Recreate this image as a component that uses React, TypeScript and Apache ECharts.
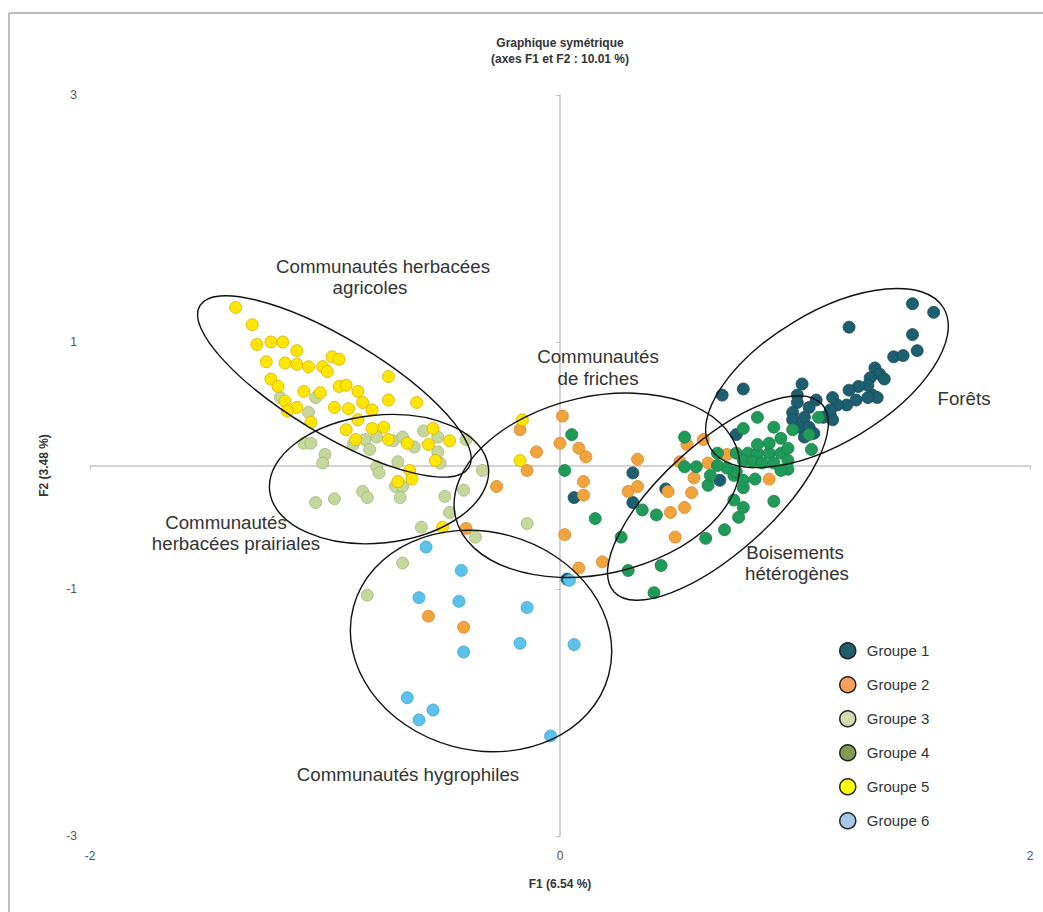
import React, { useEffect, useRef } from "react";
import * as echarts from "echarts";

const groupNames = ["Groupe 1", "Groupe 2", "Groupe 3", "Groupe 4", "Groupe 5", "Groupe 6"];

const group1 = [
  [0.69, 0.57], [0.78, 0.62], [0.31, -0.06], [0.31, -0.3], [0.06, -0.26], [0.45, -0.19], [0.68, -0.12], [0.75, 0.25], [0.03, -0.92],
  [1.5, 1.31], [1.59, 1.24], [1.23, 1.12], [1.5, 1.06], [1.52, 0.93], [1.42, 0.88], [1.46, 0.89], [1.34, 0.79], [1.36, 0.74],
  [1.32, 0.71], [1.38, 0.7], [1.31, 0.65], [1.27, 0.64], [1.23, 0.61], [1.33, 0.57], [1.35, 0.55], [1.31, 0.55], [1.26, 0.53],
  [1.22, 0.49], [1.18, 0.49], [1.16, 0.55], [1.03, 0.66], [1.01, 0.57], [1.01, 0.51], [1.06, 0.47], [1.09, 0.53], [0.99, 0.43],
  [0.99, 0.37], [1.04, 0.39], [1.02, 0.31], [1.06, 0.31], [1.04, 0.23], [1.08, 0.26], [1.15, 0.41], [1.12, 0.39], [1.16, 0.37],
  [1.15, 0.45],
];

const group2 = [
  [-0.56, -1.22], [-0.41, -1.31], [-0.4, -0.51], [0.02, -0.56], [0.08, -0.83], [0.18, -0.78], [-0.27, -0.17], [0.01, 0.4],
  [-0.17, 0.29], [0.0, 0.18], [0.08, 0.14], [0.11, 0.07], [-0.1, 0.11], [-0.14, -0.04], [0.1, -0.13], [0.1, -0.24], [0.33, 0.05],
  [0.29, -0.21], [0.33, -0.17], [0.47, -0.38], [0.53, -0.34], [0.56, -0.22], [0.57, -0.1], [0.49, -0.58], [0.51, 0.03], [0.54, 0.17],
  [0.61, 0.21], [0.63, 0.02], [0.71, 0.09], [0.46, -0.21], [0.89, -0.11],
];

const group3 = [
  [-1.19, 0.55], [-1.04, 0.55], [-1.07, 0.43], [-1.09, 0.18], [-1.06, 0.18], [-1.0, 0.09], [-1.01, 0.02], [-0.88, 0.17],
  [-0.83, 0.21], [-0.81, 0.13], [-0.78, 0.23], [-0.71, 0.2], [-0.67, 0.23], [-0.62, 0.15], [-0.58, 0.28], [-0.52, 0.23],
  [-0.52, 0.11], [-0.51, 0.02], [-0.78, -0.01], [-0.77, -0.06], [-0.69, 0.03], [-0.7, -0.17], [-0.67, -0.17], [-0.68, -0.26],
  [-0.84, -0.21], [-0.82, -0.26], [-1.04, -0.3], [-0.96, -0.27], [-0.4, 0.21], [-0.33, -0.04], [-0.41, -0.2], [-0.49, -0.25],
  [-0.47, -0.38], [-0.59, -0.5], [-0.36, -0.58], [-0.14, -0.47], [-0.67, -0.79], [-0.82, -1.05],
];

const group4 = [
  [0.05, 0.25], [0.02, -0.04], [0.15, -0.43], [0.26, -0.58], [0.29, -0.85], [0.43, -0.81], [0.4, -1.03], [0.35, -0.36],
  [0.41, -0.4], [0.62, -0.59], [0.7, -0.52], [0.76, -0.42], [0.78, -0.34], [0.74, -0.28], [0.91, -0.29], [0.78, -0.18],
  [0.63, -0.16], [0.64, -0.08], [0.74, -0.08], [0.78, -0.12], [0.83, -0.11], [0.53, 0.23], [0.53, -0.01], [0.58, -0.01],
  [0.67, 0.1], [0.75, 0.1], [0.8, 0.1], [0.84, 0.1], [0.89, 0.1], [0.94, 0.1], [0.78, 0.04], [0.82, 0.03], [0.86, 0.02],
  [0.91, 0.02], [0.97, 0.04], [0.97, -0.03], [0.94, -0.04], [0.75, -0.05], [0.71, -0.02], [0.67, 0.0], [0.84, 0.39],
  [0.78, 0.3], [0.91, 0.31], [1.1, 0.39], [0.94, 0.22], [0.89, 0.18], [0.84, 0.17], [0.99, 0.29], [1.06, 0.25], [1.07, 0.13],
  [0.97, 0.14],
];

const group5 = [
  [-1.38, 1.28], [-1.31, 1.14], [-1.29, 0.98], [-1.23, 1.0], [-1.18, 1.0], [-1.12, 0.93], [-1.25, 0.84], [-1.17, 0.83],
  [-1.12, 0.82], [-1.07, 0.8], [-0.97, 0.88], [-0.94, 0.86], [-1.01, 0.8], [-0.99, 0.76], [-0.73, 0.72], [-1.23, 0.7],
  [-1.2, 0.64], [-1.09, 0.6], [-1.02, 0.59], [-0.94, 0.64], [-0.91, 0.65], [-0.86, 0.6], [-0.84, 0.51], [-0.73, 0.53],
  [-0.61, 0.51], [-1.17, 0.52], [-1.12, 0.47], [-1.16, 0.44], [-0.96, 0.47], [-0.9, 0.46], [-0.8, 0.45], [-1.06, 0.35],
  [-0.86, 0.37], [-0.91, 0.29], [-0.8, 0.3], [-0.75, 0.31], [-0.73, 0.21], [-0.87, 0.21], [-0.65, 0.18], [-0.54, 0.3],
  [-0.56, 0.17], [-0.47, 0.2], [-0.53, 0.04], [-0.64, -0.04], [-0.63, -0.11], [-0.69, -0.13], [-0.5, -0.5], [-0.16, 0.37],
  [-0.17, 0.04],
];

const group6 = [
  [-0.57, -0.66], [-0.42, -0.85], [-0.6, -1.07], [-0.43, -1.1], [-0.14, -1.15], [-0.41, -1.51], [-0.17, -1.44], [0.06, -1.45],
  [-0.65, -1.88], [-0.54, -1.98], [-0.6, -2.06], [-0.04, -2.19], [0.04, -0.93],
];

const groupData = [group1, group2, group3, group4, group5, group6];

const pointColors = ["#1d5f6f", "#f3a33b", "#c6d79c", "#1f9a58", "#ffe600", "#5cc2ec"];
const pointBorders = ["#164b58", "#d0892b", "#a3b578", "#177f48", "#d6b000", "#3ea4d0"];
const legendColors = ["#1f5d6b", "#f6a25e", "#d2deb0", "#7f9c50", "#ffff00", "#a9c9ec"];

const xTickValues = [-2, 0, 2];
const yTickValues = [-3, -1, 1, 3];

// [centre F1, centre F2, semi-major, semi-minor (F1 units), angle (deg, anticlockwise)]
const ellipses = [
  [-0.96, 0.64, 0.668, 0.204, -31],
  [-0.77, -0.11, 0.468, 0.272, 6],
  [0.157, -0.16, 0.617, 0.378, 12.5],
  [-0.336, -1.421, 0.562, 0.464, -15],
  [0.672, -0.263, 0.596, 0.234, 42],
  [1.136, 0.708, 0.579, 0.277, 31],
];

const annotationTexts = [
  "Communautés herbacées",
  "agricoles",
  "Communautés",
  "de friches",
  "Forêts",
  "Boisements",
  "hétérogènes",
  "Communautés",
  "herbacées prairiales",
  "Communautés hygrophiles",
];
const annotationPos = [
  [383, 266], [370, 287], [598, 356], [598, 378], [964, 398], [795, 552], [797, 573], [226, 522], [236, 543], [408, 774],
];

const FONT = "'Liberation Sans', Arial, Helvetica, sans-serif";

export default function App() {
  const ref = useRef<HTMLDivElement>(null);
  useEffect(() => {
    if (!ref.current) return;
    const chart = echarts.init(ref.current, null, { renderer: "svg" });

    const scatterSeries = groupNames.map((name, i) => ({
      name,
      type: "scatter",
      xAxisIndex: 0,
      yAxisIndex: 0,
      symbol: "circle",
      symbolSize: 12,
      data: groupData[i],
      itemStyle: { color: pointColors[i], borderColor: pointBorders[i], borderWidth: 0.8, opacity: 1 },
      z: 3,
    }));

    const ellipseSeries = {
      type: "custom",
      xAxisIndex: 0,
      yAxisIndex: 0,
      silent: true,
      z: 4,
      data: ellipses,
      encode: { x: 0, y: 1 },
      renderItem: (params: any, api: any) => {
        const c = api.coord([api.value(0), api.value(1)]);
        const unit = api.size([1, 0])[0];
        return {
          type: "ellipse",
          x: c[0],
          y: c[1],
          rotation: (api.value(4) * Math.PI) / 180,
          shape: { cx: 0, cy: 0, rx: api.value(2) * unit, ry: api.value(3) * unit },
          style: { fill: "none", stroke: "#111", lineWidth: 1.4 },
        };
      },
    };

    const graphics: any[] = [
      { type: "line", silent: true, shape: { x1: 9, y1: 13, x2: 1043, y2: 13 }, style: { stroke: "#aaaaaa", lineWidth: 1.5 } },
      { type: "line", silent: true, shape: { x1: 9, y1: 13, x2: 9, y2: 912 }, style: { stroke: "#aaaaaa", lineWidth: 1.5 } },
    ];
    annotationTexts.forEach((t, i) => {
      graphics.push({
        type: "text",
        x: annotationPos[i][0],
        y: annotationPos[i][1],
        z: 10,
        style: {
          text: t,
          fill: "#333",
          fontSize: 18.7,
          fontFamily: FONT,
          align: "center",
          verticalAlign: "middle",
          textAlign: "center",
          textVerticalAlign: "middle",
        },
      });
    });

    const axisGray = "#c4c4c4";

    chart.setOption({
      animation: false,
      textStyle: { fontFamily: FONT },
      title: {
        text: "Graphique symétrique\n(axes F1 et F2 : 10.01 %)",
        left: 555,
        textAlign: "center",
        top: 30,
        textStyle: { fontSize: 12, fontWeight: "bold", lineHeight: 16, color: "#333", fontFamily: FONT },
      },
      grid: { left: 90, right: 13, top: 95, bottom: 76 },
      legend: {
        orient: "vertical",
        left: 834,
        top: 637,
        itemWidth: 28,
        itemHeight: 16,
        itemGap: 16.5,
        icon: "circle",
        textStyle: { fontSize: 15, color: "#333", fontFamily: FONT },
        data: groupNames.map((n, i) => ({
          name: n,
          itemStyle: { color: legendColors[i], borderColor: "#222", borderWidth: 1.5 },
        })),
      },
      xAxis: [
        {
          type: "value",
          min: -2,
          max: 2,
          position: "bottom",
          axisLine: { show: false, onZero: false },
          axisTick: { show: false },
          splitLine: { show: false },
          axisLabel: { customValues: xTickValues, fontSize: 12, color: "#555", margin: 14 },
          name: "F1 (6.54 %)",
          nameLocation: "middle",
          nameGap: 42,
          nameTextStyle: { fontWeight: "bold", fontSize: 12, color: "#333" },
        },
        {
          type: "value",
          min: -2,
          max: 2,
          position: "bottom",
          axisLine: { show: true, onZero: true, onZeroAxisIndex: 0, lineStyle: { color: axisGray, width: 1.5 } },
          axisTick: { show: true, customValues: xTickValues, length: 4, lineStyle: { color: axisGray } },
          axisLabel: { show: false },
          splitLine: { show: false },
        },
      ],
      yAxis: [
        {
          type: "value",
          min: -3,
          max: 3,
          position: "left",
          axisLine: { show: false, onZero: false },
          axisTick: { show: false },
          splitLine: { show: false },
          axisLabel: { customValues: yTickValues, fontSize: 12, color: "#555", margin: 13 },
          name: "F2 (3.48 %)",
          nameLocation: "middle",
          nameGap: 40,
          nameTextStyle: { fontWeight: "bold", fontSize: 12, color: "#333" },
        },
        {
          type: "value",
          min: -3,
          max: 3,
          position: "left",
          axisLine: { show: true, onZero: true, onZeroAxisIndex: 0, lineStyle: { color: axisGray, width: 1.5 } },
          axisTick: { show: true, customValues: yTickValues, length: 4, lineStyle: { color: axisGray } },
          axisLabel: { show: false },
          splitLine: { show: false },
        },
      ],
      graphic: graphics,
      series: [...scatterSeries, ellipseSeries],
    });

    return () => chart.dispose();
  }, []);

  return (
    <div
      ref={ref}
      style={{ position: "absolute", left: 0, top: 0, width: 1043, height: 912, background: "#fff" }}
    />
  );
}
